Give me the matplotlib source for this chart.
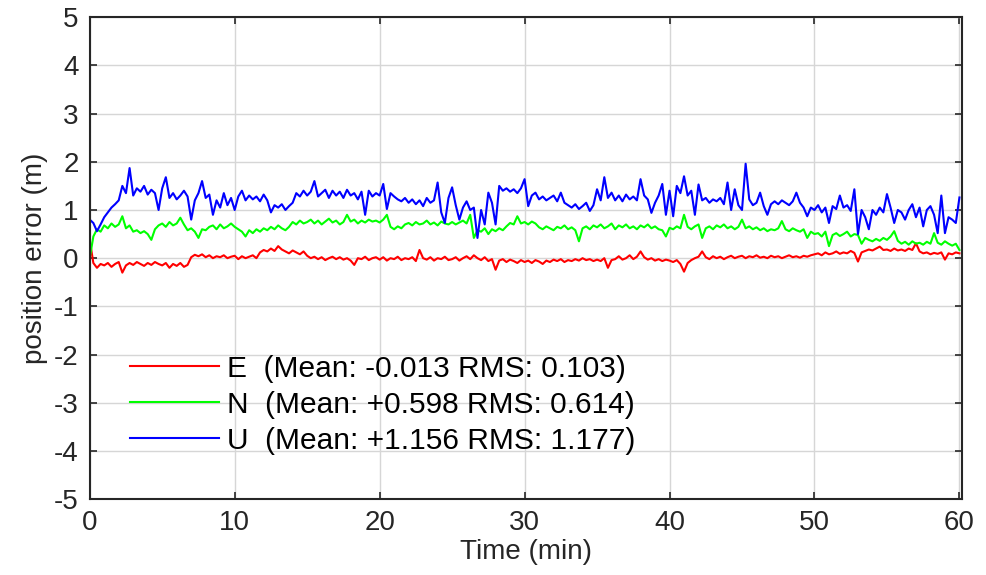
import numpy as np
import matplotlib
matplotlib.use("Agg")
import matplotlib.pyplot as plt

plt.rcParams['font.family'] = ['Liberation Sans', 'DejaVu Sans']
plt.rcParams['axes.unicode_minus'] = False

# sample times, every 0.25 min
t_start, t_end, t_step = 0.0, 60.0, 0.25

# East error (m)
east = [
    0.38, -0.10, -0.20, -0.12, -0.15, -0.10, -0.18, -0.12, -0.08, -0.30, -0.15, -0.10, -0.14, -0.08, -0.12, -0.16, -0.10, -0.14, -0.08, -0.12,
    -0.15, -0.10, -0.20, -0.12, -0.16, -0.10, -0.18, -0.14, 0.02, 0.07, 0.04, 0.08, 0.02, 0.06, 0.00, 0.04, 0.02, 0.06, 0.00, 0.03,
    0.05, -0.02, 0.04, 0.00, 0.03, 0.06, 0.00, 0.12, 0.17, 0.14, 0.20, 0.15, 0.25, 0.18, 0.14, 0.10, 0.16, 0.12, 0.08, 0.14,
    0.05, 0.00, 0.03, -0.02, 0.02, -0.04, 0.00, 0.03, -0.02, 0.02, -0.03, 0.00, -0.05, -0.14, 0.00, -0.02, 0.03, -0.04, 0.00, 0.02,
    -0.03, 0.02, -0.05, 0.00, -0.02, 0.03, -0.04, 0.00, -0.02, 0.02, -0.06, 0.17, 0.00, -0.03, 0.02, -0.05, 0.00, -0.02, 0.03, -0.04,
    -0.02, 0.02, -0.05, 0.00, 0.04, -0.02, 0.06, 0.00, -0.04, 0.02, -0.06, -0.02, -0.24, -0.05, -0.02, -0.08, -0.03, -0.06, -0.10, -0.04,
    -0.08, -0.05, -0.10, -0.04, -0.07, -0.12, -0.05, -0.08, -0.03, -0.06, -0.02, -0.08, -0.04, -0.06, -0.02, -0.05, 0.00, -0.04, -0.02, -0.06,
    -0.03, -0.06, 0.00, -0.20, -0.04, -0.02, 0.04, -0.03, 0.00, 0.06, -0.02, 0.03, 0.14, 0.02, -0.03, 0.00, -0.05, -0.02, -0.06, -0.03,
    -0.05, -0.08, -0.04, -0.12, -0.28, -0.10, -0.04, 0.00, 0.03, 0.14, 0.02, -0.02, 0.04, 0.00, 0.03, -0.02, 0.02, 0.05, 0.00, 0.03,
    0.05, 0.00, 0.04, 0.02, 0.06, 0.01, 0.03, 0.00, 0.05, 0.02, 0.04, 0.00, 0.03, 0.06, 0.02, 0.04, 0.01, 0.05, 0.03, 0.06,
    0.08, 0.10, 0.06, 0.12, 0.08, 0.10, 0.14, 0.09, 0.12, 0.10, 0.15, 0.11, -0.07, 0.12, 0.15, 0.18, 0.16, 0.20, 0.24, 0.17,
    0.18, 0.15, 0.20, 0.16, 0.18, 0.15, 0.20, 0.17, 0.31, 0.14, 0.10, 0.12, 0.08, 0.11, 0.09, 0.12, -0.03, 0.10, 0.08, 0.12,
    0.10,
]

# North error (m)
north = [
    0.00, 0.45, 0.60, 0.55, 0.68, 0.62, 0.72, 0.65, 0.70, 0.87, 0.62, 0.68, 0.55, 0.58, 0.52, 0.56, 0.50, 0.38, 0.60, 0.68,
    0.72, 0.65, 0.75, 0.68, 0.72, 0.84, 0.70, 0.58, 0.62, 0.55, 0.42, 0.60, 0.58, 0.65, 0.68, 0.60, 0.70, 0.62, 0.66, 0.72,
    0.65, 0.60, 0.55, 0.45, 0.58, 0.52, 0.60, 0.55, 0.62, 0.58, 0.65, 0.60, 0.68, 0.62, 0.58, 0.65, 0.75, 0.70, 0.78, 0.72,
    0.75, 0.80, 0.72, 0.78, 0.70, 0.76, 0.82, 0.74, 0.78, 0.70, 0.75, 0.90, 0.76, 0.80, 0.72, 0.78, 0.74, 0.80, 0.76, 0.78,
    0.74, 0.80, 0.90, 0.65, 0.60, 0.66, 0.62, 0.70, 0.73, 0.68, 0.75, 0.70, 0.72, 0.78, 0.70, 0.74, 0.68, 0.76, 0.72, 0.70,
    0.75, 0.70, 0.74, 0.78, 0.72, 0.90, 0.42, 0.58, 0.55, 0.62, 0.50, 0.60, 0.56, 0.62, 0.58, 0.66, 0.73, 0.70, 0.87, 0.72,
    0.75, 0.70, 0.76, 0.72, 0.64, 0.60, 0.66, 0.62, 0.58, 0.65, 0.62, 0.68, 0.60, 0.64, 0.58, 0.35, 0.62, 0.66, 0.60, 0.68,
    0.64, 0.70, 0.62, 0.66, 0.72, 0.60, 0.68, 0.64, 0.70, 0.62, 0.66, 0.60, 0.68, 0.64, 0.70, 0.62, 0.66, 0.60, 0.58, 0.45,
    0.63, 0.60, 0.66, 0.62, 0.90, 0.65, 0.60, 0.66, 0.70, 0.42, 0.62, 0.66, 0.60, 0.68, 0.64, 0.70, 0.62, 0.66, 0.60, 0.65,
    0.80, 0.62, 0.66, 0.60, 0.64, 0.58, 0.62, 0.56, 0.60, 0.58, 0.62, 0.77, 0.60, 0.56, 0.62, 0.58, 0.55, 0.60, 0.42, 0.55,
    0.50, 0.52, 0.45, 0.55, 0.25, 0.48, 0.52, 0.46, 0.50, 0.55, 0.45, 0.50, 0.48, 0.30, 0.42, 0.38, 0.35, 0.40, 0.36, 0.42,
    0.38, 0.45, 0.56, 0.36, 0.30, 0.34, 0.28, 0.35, 0.30, 0.32, 0.28, 0.34, 0.30, 0.52, 0.32, 0.28, 0.35, 0.30, 0.26, 0.30,
    0.17,
]

# Up error (m)
up = [
    0.80, 0.73, 0.56, 0.70, 0.85, 0.95, 1.05, 1.12, 1.20, 1.50, 1.35, 1.87, 1.30, 1.45, 1.38, 1.50, 1.32, 1.42, 1.35, 1.00,
    1.45, 1.68, 1.25, 1.35, 1.22, 1.30, 1.40, 1.28, 0.80, 1.20, 1.35, 1.60, 1.25, 1.32, 0.90, 1.20, 1.05, 1.35, 1.10, 1.25,
    1.00, 1.28, 1.40, 1.20, 1.30, 1.22, 1.28, 1.18, 1.32, 1.20, 0.95, 1.10, 1.05, 1.12, 1.00, 1.08, 1.15, 1.35, 1.28, 1.40,
    1.30, 1.38, 1.60, 1.28, 1.35, 1.42, 1.25, 1.40, 1.30, 1.38, 1.25, 1.42, 1.30, 1.35, 1.22, 1.38, 0.90, 1.40, 1.28, 1.35,
    1.30, 1.54, 1.02, 1.35, 1.28, 1.22, 1.18, 1.25, 1.15, 1.22, 1.12, 1.20, 1.08, 1.25, 1.15, 1.20, 1.57, 0.95, 0.73, 1.25,
    1.47, 1.10, 0.80, 1.05, 1.18, 1.00, 1.05, 0.42, 1.00, 0.70, 1.36, 1.15, 0.70, 1.50, 1.40, 1.45, 1.38, 1.43, 1.35, 1.45,
    1.64, 1.08, 1.30, 1.36, 1.22, 1.28, 1.20, 1.25, 1.30, 1.18, 1.36, 1.15, 1.10, 1.05, 1.12, 1.02, 1.08, 1.15, 0.98, 1.10,
    1.43, 1.20, 1.68, 1.25, 1.36, 1.20, 1.30, 1.18, 1.32, 1.22, 1.28, 1.20, 1.64, 1.30, 1.22, 0.94, 1.15, 1.30, 1.54, 0.90,
    1.40, 0.87, 1.50, 1.35, 1.70, 1.30, 1.40, 0.90, 1.53, 1.20, 1.25, 1.15, 1.22, 1.18, 1.25, 1.12, 1.57, 1.00, 1.43, 1.10,
    1.00, 1.96, 1.22, 1.10, 1.15, 1.36, 1.08, 0.90, 1.12, 1.18, 1.12, 1.20, 1.15, 1.10, 1.18, 1.36, 1.15, 1.05, 0.87, 1.05,
    1.00, 1.10, 0.95, 1.05, 0.73, 1.08, 1.02, 1.30, 1.05, 1.10, 0.98, 1.43, 0.50, 1.00, 0.85, 0.60, 1.00, 0.90, 1.05, 0.95,
    1.33, 1.05, 0.73, 1.00, 0.95, 0.80, 1.00, 1.12, 0.85, 1.05, 0.66, 1.00, 1.08, 0.90, 0.52, 1.30, 0.52, 0.85, 0.80, 0.73,
    1.26,
]

labels = [
    "E  (Mean: -0.013 RMS: 0.103)",
    "N  (Mean: +0.598 RMS: 0.614)",
    "U  (Mean: +1.156 RMS: 1.177)",
]
colors = ["#ff0000", "#00ff00", "#0000ff"]

t = np.arange(len(east)) * t_step + t_start

fig = plt.figure(figsize=(9.86, 5.75), dpi=100)
ax = fig.add_axes([0.091, 0.132, 0.885, 0.838])

for y, c, lab in zip([east, north, up], colors, labels):
    ax.plot(t, y, color=c, lw=1.5, label=lab)

ax.set_xlim(0, 60.2)
ax.set_ylim(-5, 5)
ax.set_xticks(range(0, 61, 10))
ax.set_yticks(range(-5, 6))
ax.grid(True, color="#d6d6d6", lw=1.0)
ax.set_axisbelow(True)
ax.tick_params(direction="in", top=True, right=True, length=5, width=1.2,
               labelsize=20, colors="#262626", pad=8)
for s in ax.spines.values():
    s.set_linewidth(1.5)
    s.set_color("#262626")

ax.set_xlabel("Time (min)", fontsize=20, color="#262626", labelpad=2)
ax.set_ylabel("position error (m)", fontsize=20, color="#262626", labelpad=4)

ax.legend(loc="upper left", bbox_to_anchor=(0.046, 0.300), frameon=False,
          fontsize=21.5, handlelength=2.98, handletextpad=0.27,
          labelspacing=0.27, borderpad=0, borderaxespad=0)

fig.savefig("out.png", dpi=100)
